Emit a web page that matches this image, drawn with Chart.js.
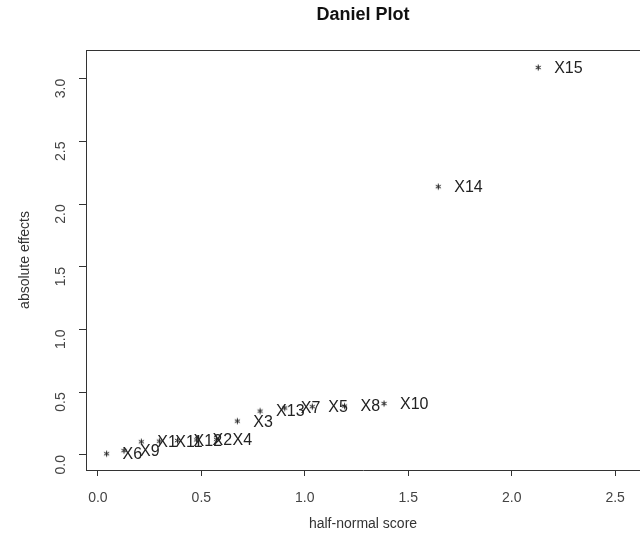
<!DOCTYPE html>
<html>
<head>
<meta charset="utf-8">
<script src="https://cdn.jsdelivr.net/npm/chart.js@4.4.0/dist/chart.umd.min.js"></script>
<style>
    html, body { margin: 0; padding: 0; background: #fff; overflow: hidden; }
    #wrap { width: 640px; height: 542px; }
</style>
</head>
<body>
<div id="wrap"><canvas id="danielPlot"></canvas></div>
<script>
// effects sorted by size
const effectNames = ['X6', 'X9', 'X1', 'X11', 'X12', 'X2', 'X4', 'X3', 'X13', 'X7', 'X5', 'X8', 'X10', 'X14', 'X15'];
const halfNormalScores = [0.042, 0.126, 0.210, 0.297, 0.385, 0.477, 0.573, 0.674, 0.784, 0.903, 1.036, 1.192, 1.383, 1.645, 2.128];
const absEffects = [0.01, 0.035, 0.105, 0.11, 0.115, 0.12, 0.125, 0.27, 0.35, 0.375, 0.385, 0.39, 0.41, 2.14, 3.09];
const xTicks = [0, 0.5, 1.0, 1.5, 2.0, 2.5];
const yTicks = [0, 0.5, 1.0, 1.5, 2.0, 2.5, 3.0];

const FONT = '"Liberation Sans", Arial, sans-serif';
const INK = '#333';

// small asterisk like R's pch="*"
const starImg = document.createElement('canvas');
starImg.width = 9;
starImg.height = 9;
const sctx = starImg.getContext('2d');
sctx.strokeStyle = '#222';
sctx.lineWidth = 1;
for (let a = 0; a < 3; a++) {
    const ang = Math.PI / 2 + a * Math.PI / 3;
    sctx.beginPath();
    sctx.moveTo(4.5 - 3 * Math.cos(ang), 4.5 - 3 * Math.sin(ang));
    sctx.lineTo(4.5 + 3 * Math.cos(ang), 4.5 + 3 * Math.sin(ang));
    sctx.stroke();
}

const points = halfNormalScores.map((x, i) => ({ x: x, y: absEffects[i] }));

// title over the plot box, text labels next to each point, top edge of the box
const labelPlugin = {
    id: 'pointLabels',
    afterDatasetsDraw(chart) {
        const ctx = chart.ctx;
        const a = chart.chartArea;
        const meta = chart.getDatasetMeta(0);
        ctx.save();
        ctx.font = '16px ' + FONT;
        ctx.fillStyle = '#222';
        ctx.textAlign = 'left';
        ctx.textBaseline = 'middle';
        meta.data.forEach((pt, i) => {
            ctx.fillText(effectNames[i], pt.x + 16, pt.y + 1);
        });

        ctx.font = 'bold 18px ' + FONT;
        ctx.fillStyle = '#111';
        ctx.textAlign = 'center';
        ctx.fillText('Daniel Plot', (a.left + a.right) / 2, 15);

        ctx.strokeStyle = INK;
        ctx.lineWidth = 1;
        ctx.beginPath();
        ctx.moveTo(a.left, a.top + 0.5);
        ctx.lineTo(a.right, a.top + 0.5);
        ctx.stroke();
        ctx.restore();
    }
};

new Chart(document.getElementById('danielPlot'), {
    type: 'scatter',
    data: {
        datasets: [{
            data: points,
            pointStyle: starImg,
            pointRadius: 4,
            pointHoverRadius: 4
        }]
    },
    options: {
        responsive: true,
        maintainAspectRatio: false,
        animation: false,
        layout: { autoPadding: false, padding: { left: 0, right: 0, top: 50, bottom: 0 } },
        plugins: {
            legend: { display: false },
            tooltip: { enabled: false },
            title: { display: false }
        },
        scales: {
            x: {
                type: 'linear',
                min: -0.0575,
                max: 2.62,
                afterBuildTicks: s => { s.ticks = xTicks.map(v => ({ value: v })); },
                afterFit: s => { s.height = 72; },
                grid: { drawOnChartArea: false, tickLength: 6, tickColor: INK },
                border: { display: true, color: INK },
                ticks: {
                    callback: v => v.toFixed(1),
                    color: '#444',
                    font: { family: FONT, size: 14 },
                    padding: 14,
                    maxRotation: 0,
                    autoSkip: false
                },
                title: {
                    display: true,
                    text: 'half-normal score',
                    color: INK,
                    font: { family: FONT, size: 14 },
                    padding: { top: 0, bottom: 9 }
                }
            },
            y: {
                type: 'linear',
                min: -0.12,
                max: 3.23,
                afterBuildTicks: s => { s.ticks = yTicks.map(v => ({ value: v })); },
                afterFit: s => { s.width = 86; },
                grid: { drawOnChartArea: false, tickLength: 7, tickColor: INK },
                border: { display: true, color: INK },
                ticks: {
                    callback: v => v.toFixed(1),
                    color: '#444',
                    font: { family: FONT, size: 14 },
                    padding: 18,
                    minRotation: 90,
                    maxRotation: 90,
                    autoSkip: false
                },
                title: {
                    display: true,
                    text: 'absolute effects',
                    color: INK,
                    font: { family: FONT, size: 14 },
                    padding: { top: 17, bottom: 0 }
                }
            }
        }
    },
    plugins: [labelPlugin]
});
</script>
</body>
</html>
